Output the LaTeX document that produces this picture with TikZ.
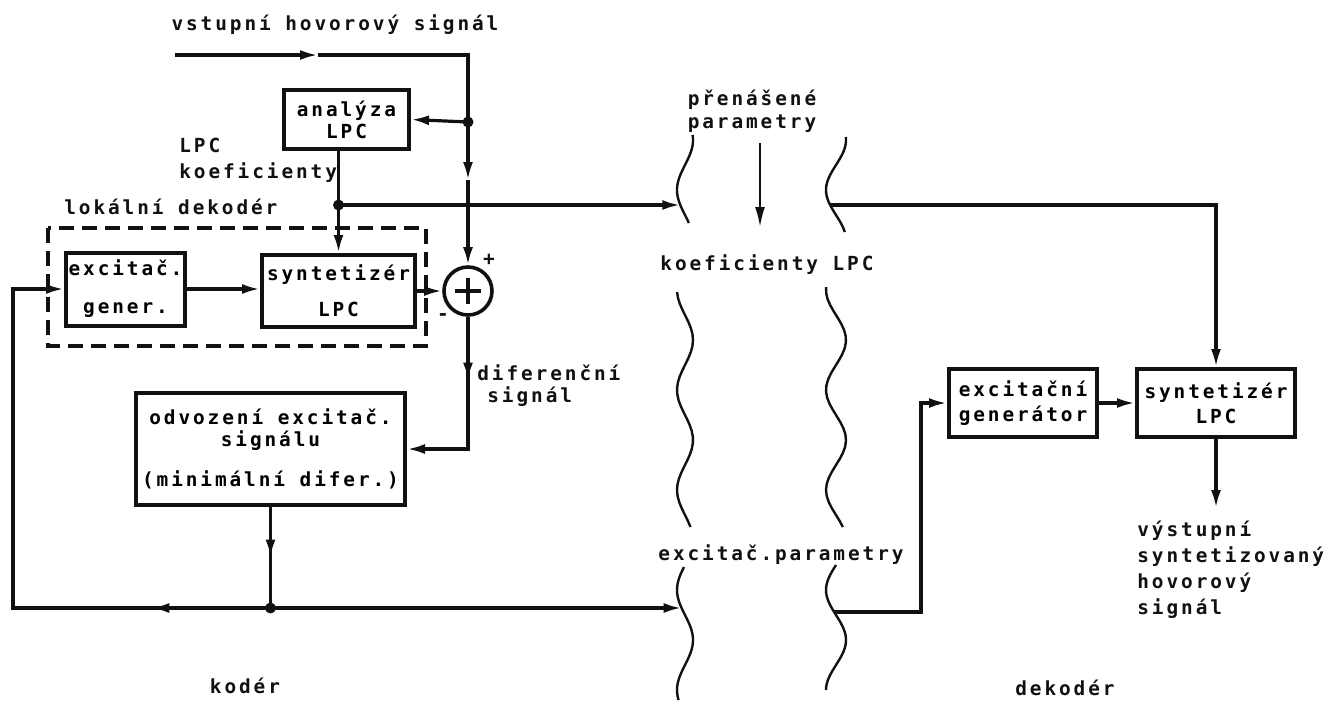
\documentclass[tikz,border=0pt]{standalone}
\usepackage{fontspec}
\newfontfamily\lpcfont[LetterSpace=15]{DejaVu Sans Mono}
\usetikzlibrary{arrows.meta,decorations.markings}
\definecolor{lpcInk}{HTML}{111111}
\tikzset{
  lpc line/.style={draw=lpcInk, line width=1.6pt},
  lpc arrow/.style={lpc line, -{Latex[length=9pt,width=5pt]}},
  lpc thin arrow/.style={draw=lpcInk, line width=1.1pt, -{Latex[length=10pt,width=5pt]}},
  lpc mid/.style={postaction={decorate, decoration={markings,
      mark=at position #1 with {\arrow{Latex[length=9pt,width=5pt]}}}}},
  lpc box/.style={draw=lpcInk, line width=2pt, inner sep=1pt, align=center,
      font=\lpcfont\bfseries\fontsize{9.7}{11}\selectfont},
  lpc sum/.style={circle, draw=lpcInk, line width=1.8pt, minimum size=24pt, inner sep=0pt},
  lpc frame/.style={draw=lpcInk, line width=1.7pt, dash pattern=on 7.5pt off 4pt},
  lpc wave/.style={draw=lpcInk, line width=1.2pt},
  lpc dot/.style={circle, fill=lpcInk, inner sep=0pt, minimum size=5.5pt},
  lpc label/.style={inner sep=0pt, text=lpcInk, font=\lpcfont\bfseries\fontsize{9.7}{13}\selectfont},
}

\begin{document}
\begin{tikzpicture}[x=0.5pt,y=-0.5pt]
  \useasboundingbox (0,0) rectangle (1328,703);

  % koder
  \node[lpc label] (vstup) at (335,25) {vstupní hovorový signál};
  \node[lpc box, minimum width=62.5pt, minimum height=29.5pt] (analyza) at (346.5,119.5) {analýza\\LPC};
  \node[lpc box, minimum width=59.5pt, minimum height=36.5pt] (excgen) at (125.5,289) {excitač.\\[8pt]gener.};
  \node[lpc box, minimum width=76.5pt, minimum height=36pt] (syncod) at (338.5,291) {syntetizér\\[7pt]LPC};
  \node[lpc sum] (sum) at (468,291) {};
  \draw[lpc line, line width=2pt] ([xshift=-6.5pt]sum.center) -- ([xshift=6.5pt]sum.center);
  \draw[lpc line, line width=2pt] ([yshift=-6.5pt]sum.center) -- ([yshift=6.5pt]sum.center);
  \node[lpc box, minimum width=134.5pt, minimum height=56pt] (odv) at (270.5,449) {odvození excitač.\\signálu\\[9pt](minimální difer.)};
  \draw[lpc frame] (48,228) rectangle (426,346);

  \node[lpc label, anchor=west, align=left] (lpckoef) at (179,160) {LPC\\koeficienty};
  \node[lpc label, anchor=west] (lokdek) at (64,207) {lokální dekodér};
  \node[lpc label] (plus) at (489,260) {+};
  \node[lpc label] (minus) at (443,317) {-};
  \node[lpc label, anchor=west, align=left] (diflab) at (477,386) {diferenční\\[-2pt]\hspace{5pt}signál};
  \node[lpc label] (kodlab) at (245,686) {kodér};

  % prenos
  \node[lpc label, align=center] (prenos) at (752,111) {přenášené\\[-1.5pt]parametry};
  \node[lpc label] (koeflab) at (767,265) {koeficienty LPC};
  \node[lpc label] (exclab) at (781,555) {excitač.parametry};
  \foreach \ya/\yb/\yc/\yd in {135/223/137/232, 292/527/287/527, 567/700/565/690} {
    \draw[lpc wave] plot[domain=\ya:\yb, samples=40, variable=\t] ({685+8*sin(3.6*\t+306)},\t);
    \draw[lpc wave] plot[domain=\yc:\yd, samples=40, variable=\t] ({836+10*sin(3.6*\t+306)},\t);
  }

  % dekoder
  \node[lpc box, minimum width=74pt, minimum height=34pt] (excdec) at (1023,403) {excitační\\[1.5pt]generátor};
  \node[lpc box, minimum width=79pt, minimum height=34pt] (syndec) at (1216,403) {syntetizér\\[1.5pt]LPC};
  \node[lpc label, anchor=west, align=left] (vystup) at (1137,570) {výstupní\\syntetizovaný\\hovorový\\signál};
  \node[lpc label] (dekodlab) at (1065,688) {dekodér};

  % body spoju
  \coordinate (vin) at (175,55);
  \coordinate (ain) at (318,55);
  \coordinate (kin) at (468,55);
  \coordinate (jin) at (468,122);
  \coordinate (ajin) at (468,180);
  \coordinate (jlpc) at (338.5,205);
  \coordinate (jbot) at (270.5,608);
  \coordinate (fbl) at (13,608);
  \coordinate (fbr) at (921,612);
  \coordinate (vout) at (1216,508);
  \coordinate (pa1) at (760,143);
  \coordinate (pa2) at (760,227);
  \coordinate (wl1) at ({685+8*sin(3.6*205+306)},205);
  \coordinate (wr1) at ({836+10*sin(3.6*205+306)},205);
  \coordinate (wl2) at ({685+8*sin(3.6*608+306)},608);
  \coordinate (wr2) at ({836+10*sin(3.6*612+306)},612);

  % spoje
  \draw[lpc arrow] (vin) -- (ain);
  \draw[lpc line] (ain) -| (jin);
  \draw[lpc arrow] (jin) -- (ajin);
  \draw[lpc arrow] (ajin) -- (sum.north);
  \draw[lpc arrow] (jin) -- (analyza.east);
  \draw[lpc arrow] (jlpc |- analyza.south) -- (syncod.north);
  \draw[lpc arrow] (jlpc) -- (wl1);
  \draw[lpc arrow] (wr1) -| (syndec.north);
  \draw[lpc arrow] (excgen.east) -- (excgen.east -| syncod.west);
  \draw[lpc arrow] (syncod.east) -- (sum.west);
  \draw[lpc arrow, lpc mid=0.33] (sum.south) |- (odv.east);
  \draw[lpc line, lpc mid=0.5] (odv.south) -- (jbot);
  \draw[lpc arrow, lpc mid=0.19] (jbot) -- (fbl) |- (excgen.west);
  \draw[lpc arrow] (jbot) -- (wl2);
  \draw[lpc arrow] (wr2) -- (fbr) |- (excdec.west);
  \draw[lpc arrow] (excdec) -- (syndec);
  \draw[lpc arrow] (syndec) -- (vout);
  \draw[lpc thin arrow] (pa1) -- (pa2);
  \node[lpc dot] (djin) at (jin) {};
  \node[lpc dot] (djlpc) at (jlpc) {};
  \node[lpc dot] (djbot) at (jbot) {};
\end{tikzpicture}
\end{document}
